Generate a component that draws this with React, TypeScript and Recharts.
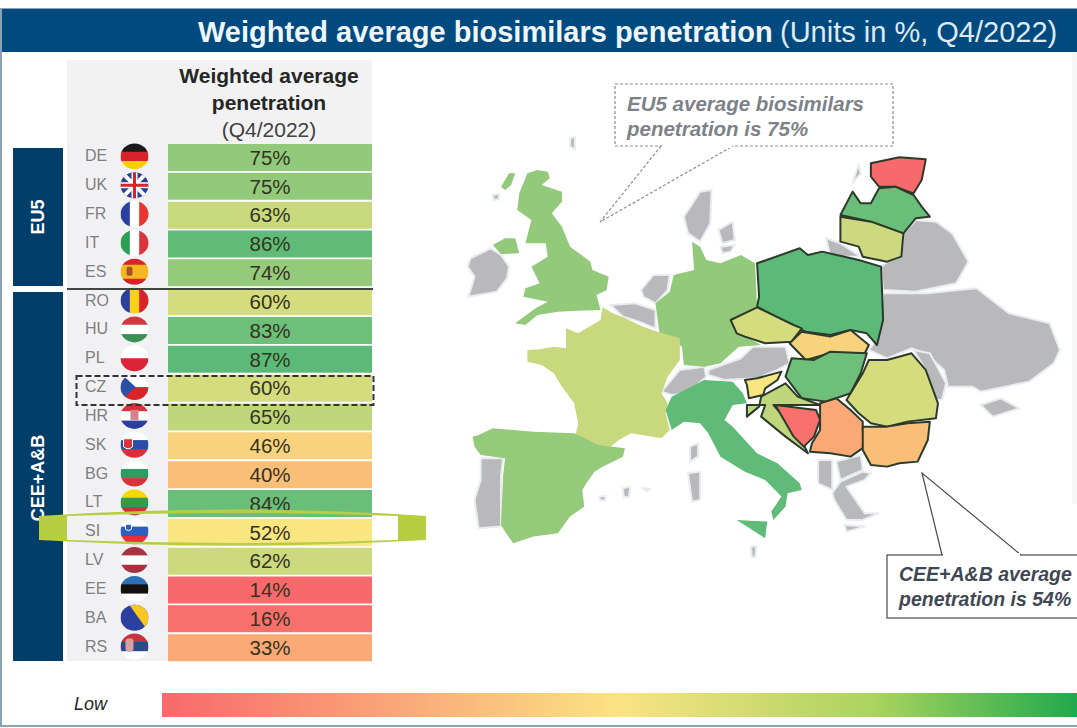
import { BarChart, Bar, XAxis, YAxis, Cell, LabelList } from 'recharts'

const FONT = '"Liberation Sans", Arial, sans-serif'

const EU5_CODES = ['DE', 'UK', 'FR', 'IT', 'ES']
const EU5_VALUES = [75, 75, 63, 86, 74]
const CEE_CODES = ['RO', 'HU', 'PL', 'CZ', 'HR', 'SK', 'BG', 'LT', 'SI', 'LV', 'EE', 'BA', 'RS']
const CEE_VALUES = [60, 83, 87, 60, 65, 46, 40, 84, 52, 62, 14, 16, 33]

const CODES = [...EU5_CODES, ...CEE_CODES]
const VALUES = [...EU5_VALUES, ...CEE_VALUES]
// every cell has the same width, the colour carries the value
const TABLE = CODES.map((code, i) => ({ code, value: VALUES[i], span: 1 }))

const FLAGS: Record<string, { dir: 'h' | 'v'; colors: string[] }> = {
  DE: { dir: 'h', colors: ['#1a1a1a', '#d8232a', '#ffce00'] },
  UK: { dir: 'h', colors: ['#2a3f8f'] },
  FR: { dir: 'v', colors: ['#2b3f9e', '#ffffff', '#e8352e'] },
  IT: { dir: 'v', colors: ['#2f9e55', '#ffffff', '#d9353f'] },
  ES: { dir: 'h', colors: ['#d8232a', '#f6b820', '#f6b820', '#d8232a'] },
  RO: { dir: 'v', colors: ['#2b3f9e', '#fcd116', '#d8232a'] },
  HU: { dir: 'h', colors: ['#cf3a40', '#ffffff', '#3d8f55'] },
  PL: { dir: 'h', colors: ['#ffffff', '#dc2439'] },
  CZ: { dir: 'h', colors: ['#ffffff', '#d8232a'] },
  HR: { dir: 'h', colors: ['#d8323a', '#ffffff', '#2b3f9e'] },
  SK: { dir: 'h', colors: ['#ffffff', '#2b4fa8', '#dc2e38'] },
  BG: { dir: 'h', colors: ['#ffffff', '#2f9a63', '#d8323a'] },
  LT: { dir: 'h', colors: ['#f5d800', '#2f9a50', '#cf3040'] },
  SI: { dir: 'h', colors: ['#ffffff', '#2b5fc0', '#e8303a'] },
  LV: { dir: 'h', colors: ['#a83240', '#ffffff', '#a83240'] },
  EE: { dir: 'h', colors: ['#2a6fb8', '#111111', '#ffffff'] },
  BA: { dir: 'h', colors: ['#2b3f9e'] },
  RS: { dir: 'h', colors: ['#c8323f', '#2b4a8e', '#ffffff'] },
}

const SCALE_LOW = [248, 105, 107]
const SCALE_MID = [249, 230, 128]
const SCALE_HIGH = [92, 186, 120]

function valueColor(value: number) {
  const [a, b, t] =
    value < 52
      ? [SCALE_LOW, SCALE_MID, (value - 14) / 38]
      : [SCALE_MID, SCALE_HIGH, (value - 52) / 35]
  const mix = a.map((c, i) => Math.round(c + (b[i] - c) * t))
  return `rgb(${mix.join(',')})`
}

// outlines, in a local frame mapped by MAP_TRANSFORM
const MAP_TRANSFORM = 'translate(440,70) scale(0.4065,0.3333)'

const COUNTRY_SHAPES: Record<string, string> = {
  UK: '215,310 240,300 265,305 270,325 250,345 300,365 300,395 275,430 300,470 320,530 370,575 375,600 415,620 410,660 385,675 395,720 340,722 290,725 240,735 210,765 185,760 235,715 265,695 205,680 210,655 245,640 225,590 265,560 260,520 210,520 225,450 190,420 195,370',
  DE: '620,515 640,530 655,570 690,580 740,555 775,580 780,710 715,750 735,790 790,825 735,830 690,880 650,890 600,885 595,830 540,790 530,700 565,665 575,615 625,600',
  FR: '215,840 245,838 280,830 310,835 310,775 340,790 395,750 400,712 425,730 450,742 500,770 535,785 590,805 590,870 560,920 545,970 560,1000 555,1030 565,1080 545,1105 470,1090 440,1110 420,1130 380,1125 330,1115 340,1060 330,1000 300,950 280,910 250,885 215,875',
  IT: '555,1020 570,980 650,930 720,935 745,970 755,1000 720,1005 700,1050 720,1070 780,1150 830,1180 885,1240 890,1260 855,1270 850,1310 820,1350 815,1325 840,1280 800,1230 750,1205 690,1160 660,1090 640,1060 600,1055 570,1080',
  ES: '80,1100 95,1095 130,1075 230,1085 330,1090 390,1125 455,1135 450,1160 400,1190 380,1205 360,1240 350,1260 355,1310 320,1340 290,1390 230,1400 180,1420 160,1385 150,1365 155,1220 160,1165 100,1155 85,1130',
  PL: '780,580 885,535 905,555 940,545 1030,570 1085,590 1088,680 1090,750 1075,825 1050,790 1010,780 960,795 900,785 870,770 780,710 785,680',
  CZ: '715,750 780,712 870,765 890,775 865,815 800,820 750,800 730,790',
  SK: '890,785 960,800 1010,780 1055,825 1045,850 960,850 900,870 860,820',
  HU: '865,865 920,870 960,845 1050,850 1035,910 1010,970 950,995 890,985 850,920',
  SI: '750,930 780,925 840,905 830,930 800,955 795,975 760,985 755,945',
  HR: '790,980 850,940 880,980 935,1005 820,1005 880,1090 905,1150 850,1100 790,1040 800,1005 755,1005 755,1040 785,1010',
  BA: '825,1005 925,1020 935,1050 920,1100 895,1130 870,1100',
  RS: '935,1000 975,985 1010,1020 1040,1055 1040,1080 1045,1130 1010,1160 960,1150 910,1145 915,1120 935,1080',
  RO: '1040,910 1055,870 1100,870 1160,850 1195,900 1225,1000 1220,1045 1150,1055 1100,1070 1060,1060 1030,1030 1000,990',
  BG: '1040,1070 1100,1070 1150,1060 1205,1055 1200,1110 1175,1175 1130,1180 1100,1190 1060,1185 1040,1140',
  EE: '1060,280 1130,262 1195,268 1185,330 1165,370 1120,350 1080,350 1060,320',
  LT: '985,435 1015,365 1035,400 1060,400 1080,355 1120,350 1165,375 1185,410 1205,440 1170,445 1140,490 1060,455',
  LV: '985,440 1060,455 1140,490 1135,560 1100,575 1040,560 1030,530 985,515',
}

const UK_EXTRA = [
  '130,525 160,505 185,505 195,550 150,552',
  '150,350 170,310 185,310 175,345 160,360',
]
const ITALY_EXTRA = '730,1350 805,1355 800,1405'

const OUTLINED = ['PL', 'CZ', 'SK', 'HU', 'SI', 'HR', 'BA', 'RS', 'RO', 'BG', 'EE', 'LT', 'LV']

const GREY_SHAPES = [
  '75,565 125,535 150,555 170,590 165,625 140,665 70,680 85,620 68,590',
  '600,440 640,365 668,360 665,460 640,515 610,490',
  '685,480 720,455 725,510 695,520',
  '690,530 725,525 715,545 695,550',
  '495,660 525,615 565,615 560,660 530,700 500,680',
  '420,705 480,700 530,720 530,775 490,755 450,740',
  '660,900 740,865 770,830 850,830 860,880 830,900 780,925 700,930 660,915',
  '545,965 590,900 650,890 655,920 610,970 570,975',
  '100,1165 155,1165 150,1220 150,1370 95,1375 85,1290 100,1230',
  '615,1130 635,1120 635,1160 615,1175',
  '610,1210 640,1205 640,1290 620,1295',
  '930,1170 965,1170 965,1260 930,1240',
  '975,1175 1035,1155 1040,1200 985,1230',
  '965,1270 985,1235 1040,1205 1060,1210 1045,1230 1000,1250 1045,1330 1080,1330 1040,1350 1000,1350 970,1290',
  '995,1365 1045,1370 1000,1385',
  '1140,490 1170,450 1220,455 1260,490 1300,575 1270,640 1170,665 1090,660 1085,590 1100,575 1135,560',
  '1090,670 1200,670 1275,660 1320,655 1400,730 1500,760 1525,840 1510,880 1450,935 1330,965 1310,950 1250,950 1240,900 1195,850 1160,835 1100,865 1055,840 1080,800',
  '1165,840 1205,850 1245,940 1235,990 1210,990 1195,900',
  '1330,1005 1380,985 1425,1015 1360,1040',
  '950,505 985,520 1035,560 960,560',
  '1030,285 1035,310 1015,340 1025,300',
  '320,205 332,200 332,238 320,230',
  '130,375 145,372 145,388 132,390',
  '450,1255 468,1250 465,1280 452,1282',
  '392,1280 408,1278 406,1292 394,1292',
  '495,1253 518,1258 510,1265',
  '765,1430 778,1430 776,1462 767,1462',
]

function Background() {
  return (
    <svg width={1077} height={728} style={{ position: 'absolute', left: 0, top: 0 }}>
      <defs>
        <linearGradient id="scale" x1="0" x2="1" y1="0" y2="0">
          <stop offset="0" stopColor="#f8696b" />
          <stop offset="0.5" stopColor="#fbe385" />
          <stop offset="0.78" stopColor="#a9d35f" />
          <stop offset="1" stopColor="#20a94c" />
        </linearGradient>
      </defs>
      <rect x={0} y={0} width={1077} height={728} fill="#ffffff" />
      <rect x={1} y={9} width={1090} height={717} fill="none" stroke="#88a2b8" strokeWidth={2} />
      <rect x={1072} y={52} width={5} height={452} fill="#f6f6f6" />
      <rect x={2} y={9} width={1075} height={43} fill="#004a80" />
      <text x={198} y={42} fill="#eef6fc" fontFamily={FONT} fontSize={29} fontWeight="bold">
        Weighted average biosimilars penetration
      </text>
      <text x={780} y={42} fill="#dfe9f2" fontFamily={FONT} fontSize={29}>
        (Units in %, Q4/2022)
      </text>

      <rect x={67} y={60} width={305} height={84} fill="#f2f2f2" />
      <rect x={67} y={144} width={101} height={517} fill="#f1f1f3" />
      <text textAnchor="middle" fontFamily={FONT} fill="#262626" fontSize={21}>
        <tspan x={269} y={83} fontWeight="bold">Weighted average</tspan>
        <tspan x={269} y={110} fontWeight="bold">penetration</tspan>
        <tspan x={269} y={137} fill="#404040">(Q4/2022)</tspan>
      </text>

      <rect x={13} y={148} width={50} height={138} fill="#023e69" />
      <rect x={13} y={292} width={50} height={369} fill="#023e69" />
      <text transform="translate(44,217) rotate(-90)" textAnchor="middle" fill="#ffffff" fontFamily={FONT} fontSize={18} fontWeight="bold">EU5</text>
      <text transform="translate(44,478) rotate(-90)" textAnchor="middle" fill="#ffffff" fontFamily={FONT} fontSize={18} fontWeight="bold">CEE+A&amp;B</text>

      <g transform={MAP_TRANSFORM}>
        {GREY_SHAPES.map((points) => (
          <polygon key={points} points={points} fill="#b9b9bb" stroke="#e9edf2" strokeWidth={2} vectorEffect="non-scaling-stroke" />
        ))}
        {UK_EXTRA.map((points) => (
          <polygon key={points} points={points} fill={valueColor(75)} />
        ))}
        <polygon points={ITALY_EXTRA} fill={valueColor(86)} />
        {Object.keys(COUNTRY_SHAPES)
          .sort((a, b) => Number(OUTLINED.includes(a)) - Number(OUTLINED.includes(b)))
          .map((code) => (
            <polygon
              key={code}
              points={COUNTRY_SHAPES[code]}
              fill={valueColor(VALUES[CODES.indexOf(code)])}
              stroke={OUTLINED.includes(code) ? '#2c3a2c' : 'none'}
              strokeWidth={2}
              strokeLinejoin="round"
              vectorEffect="non-scaling-stroke"
            />
          ))}
      </g>

      <polyline points="661,146 600,222 733,146" fill="none" stroke="#8c8c8c" strokeWidth={1.2} strokeDasharray="3 2" />
      <rect x={615} y={84} width={278} height={62} fill="none" stroke="#8c8c8c" strokeWidth={1.2} strokeDasharray="3 2" />
      <rect x={662} y={144} width={70} height={4} fill="#ffffff" />
      <text fontFamily={FONT} fontSize={20.5} fontWeight="bold" fontStyle="italic" fill="#7d8288">
        <tspan x={627} y={111}>EU5 average biosimilars</tspan>
        <tspan x={627} y={136}>penetration is 75%</tspan>
      </text>

      <polyline points="942,555 922,473 1021,555" fill="none" stroke="#4a4a4a" strokeWidth={1.2} />
      <rect x={887} y={555} width={195} height={63} fill="#ffffff" stroke="#4a4a4a" strokeWidth={1.2} />
      <rect x={943} y={553} width={77} height={4} fill="#ffffff" />
      <text fontFamily={FONT} fontSize={19.5} fontWeight="bold" fontStyle="italic" fill="#3f4852">
        <tspan x={899} y={581}>CEE+A&amp;B average</tspan>
        <tspan x={899} y={606}>penetration is 54%</tspan>
      </text>

      <rect x={162} y={693} width={915} height={24} fill="url(#scale)" />
      <text x={74} y={710} fontFamily={FONT} fontSize={18} fontStyle="italic" fill="#262626">Low</text>
    </svg>
  )
}

function FlagTick({ x, y, payload }: any) {
  const code: string = payload.value
  const flag = FLAGS[code]
  const cx = 134.5
  const r = 14
  const n = flag.colors.length
  const clipId = `flag-${code}`
  return (
    <g>
      <text x={85} y={y + 4} fontFamily={FONT} fontSize={16} fill="#7f7f7f">{code}</text>
      <clipPath id={clipId}>
        <ellipse cx={cx} cy={y - 1} rx={r} ry={r - 1} />
      </clipPath>
      <g clipPath={`url(#${clipId})`}>
        {flag.colors.map((color, i) =>
          flag.dir === 'h' ? (
            <rect key={i} x={cx - r} y={y - 1 - r + (i * 2 * r) / n} width={2 * r} height={(2 * r) / n + 0.5} fill={color} />
          ) : (
            <rect key={i} x={cx - r + (i * 2 * r) / n} y={y - 1 - r} width={(2 * r) / n + 0.5} height={2 * r} fill={color} />
          ),
        )}
        {code === 'UK' && (
          <g>
            <path d={`M${cx - r} ${y - 15}L${cx + r} ${y + 13}M${cx + r} ${y - 15}L${cx - r} ${y + 13}`} stroke="#ffffff" strokeWidth={4} />
            <path d={`M${cx} ${y - 15}V${y + 13}M${cx - r} ${y - 1}H${cx + r}`} stroke="#ffffff" strokeWidth={6} />
            <path d={`M${cx} ${y - 15}V${y + 13}M${cx - r} ${y - 1}H${cx + r}`} stroke="#d8232a" strokeWidth={3} />
          </g>
        )}
        {code === 'CZ' && <path d={`M${cx - r} ${y - 15}L${cx + 1} ${y - 1}L${cx - r} ${y + 13}Z`} fill="#2b4fa8" />}
        {code === 'BA' && <path d={`M${cx - 6} ${y - 15}L${cx + r} ${y - 15}V${y + 13}Z`} fill="#f6c81e" />}
        {code === 'RS' && <rect x={cx - 9} y={y - 9} width={8} height={13} rx={3} fill="#d8a0a0" />}
        {code === 'ES' && <rect x={cx - 8} y={y - 6} width={6} height={9} rx={2} fill="#a8502a" />}
        {code === 'HR' && <rect x={cx - 4} y={y - 7} width={8} height={10} fill="#d8808a" />}
        {code === 'SK' && <path d={`M${cx - 11} ${y - 7}h9v8q-4 4-9 0Z`} fill="#d8323a" stroke="#ffffff" />}
        {code === 'SI' && <path d={`M${cx - 9} ${y - 8}h6v5q-3 3-6 0Z`} fill="#2b5fc0" stroke="#ffffff" />}
      </g>
    </g>
  )
}

function Overlay() {
  return (
    <svg width={1077} height={728} style={{ position: 'absolute', left: 0, top: 0, pointerEvents: 'none' }}>
      <line x1={67} y1={289} x2={373} y2={289} stroke="#3f4540" strokeWidth={2} />
      <rect x={76.5} y={376} width={297} height={29} fill="none" stroke="#333333" strokeWidth={2} strokeDasharray="6 3" />
      <rect x={372} y={514} width={26} height={28} fill="#ffffff" />
      <path
        d="M39 516 Q232 503 426 516 V540 Q232 551 39 540 Z M67 516 V540 Q232 546 398 540 V516 Q232 510 67 516 Z"
        fill="#b7cd42"
        fillRule="evenodd"
      />
    </svg>
  )
}

export default function App() {
  return (
    <div style={{ position: 'absolute', left: 0, top: 0, width: 1077, height: 728, overflow: 'hidden' }}>
      <Background />
      <div style={{ position: 'absolute', left: 0, top: 0 }}>
        <BarChart
          width={1077}
          height={728}
          data={TABLE}
          layout="vertical"
          margin={{ top: 143, right: 705, bottom: 66, left: 67 }}
          barCategoryGap={0}
        >
          <XAxis type="number" hide domain={[0, 1]} />
          <YAxis
            type="category"
            dataKey="code"
            width={101}
            interval={0}
            axisLine={false}
            tickLine={false}
            tick={<FlagTick />}
          />
          <Bar dataKey="span" barSize={27} isAnimationActive={false}>
            {TABLE.map((row) => (
              <Cell key={row.code} fill={valueColor(row.value)} />
            ))}
            <LabelList
              dataKey="value"
              position="center"
              formatter={(v: any) => `${v}%`}
              style={{ fontFamily: FONT, fontSize: 20.5, fill: '#33331f' }}
            />
          </Bar>
        </BarChart>
      </div>
      <Overlay />
    </div>
  )
}
